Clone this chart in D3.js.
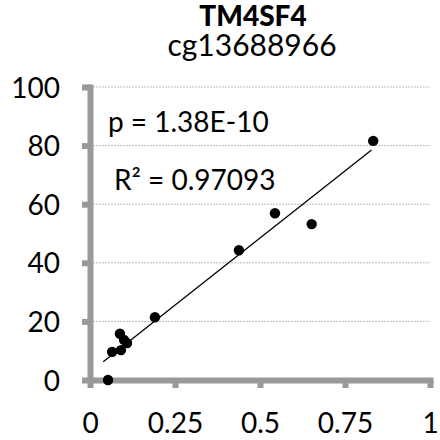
<!DOCTYPE html>
<html>
<head>
<meta charset="utf-8">
<script src="https://cdn.jsdelivr.net/npm/d3@7"></script>
<style>
  body { margin: 0; background: #fff; }
  text { font-family: Lato, "Open Sans", sans-serif; fill: #000; }
</style>
</head>
<body>
<div id="chart"></div>
<script>
const methylation = [0.053, 0.065, 0.088, 0.091, 0.100, 0.109, 0.191, 0.438, 0.544, 0.652, 0.833];
const expression = [0.0, 9.6, 15.8, 10.2, 13.7, 12.6, 21.4, 44.3, 56.9, 53.2, 81.6];
const trendX = [0.039, 0.828];
const trendSlope = 91.6;
const trendIntercept = 2.67;
const xTicks = [0, 0.25, 0.5, 0.75, 1];
const yTicks = [0, 20, 40, 60, 80, 100];
const titleLines = ["TM4SF4", "cg13688966"];
const notes = ["p = 1.38E-10", "R² = 0.97093"];

const width = 440, height = 440;
const margin = { top: 87, right: 10, bottom: 60, left: 90 };
const axisGrey = "#999999";

const svg = d3.select("#chart").append("svg")
  .attr("width", width)
  .attr("height", height);

const x = d3.scaleLinear().domain([0, 1]).range([margin.left, width - margin.right]);
const y = d3.scaleLinear().domain([0, 100]).range([height - margin.bottom, margin.top]);

// dotted gridlines
svg.append("g").selectAll("line")
  .data(yTicks.filter((d) => d > 0))
  .enter().append("line")
  .attr("x1", x(0) + 3)
  .attr("x2", x(1))
  .attr("y1", (d) => y(d))
  .attr("y2", (d) => y(d))
  .style("stroke", "#bdbdbd")
  .style("stroke-width", 1)
  .style("stroke-dasharray", "2,1");

// axes
const yAxis = svg.append("g")
  .attr("transform", `translate(${x(0)},0)`)
  .call(d3.axisLeft(y).tickValues(yTicks).tickSize(8).tickSizeOuter(0).tickPadding(22));

const xAxis = svg.append("g")
  .attr("transform", `translate(0,${y(0)})`)
  .call(d3.axisBottom(x).tickValues(xTicks).tickSize(8).tickSizeOuter(0)
    .tickFormat((d) => String(d)));

[yAxis, xAxis].forEach((a) => {
  a.select(".domain")
    .style("stroke", axisGrey)
    .style("stroke-width", 6)
    .style("stroke-linecap", "square");
  a.selectAll(".tick line")
    .style("stroke", axisGrey)
    .style("stroke-width", 6);
  a.selectAll(".tick text")
    .style("font-family", "Lato, 'Open Sans', sans-serif")
    .style("font-size", "28px")
    .style("fill", "#000");
});

yAxis.selectAll(".tick text").attr("dy", "0.36em");
xAxis.selectAll(".tick text").attr("y", 53).attr("dy", 0);

// trendline
svg.append("line")
  .attr("x1", x(trendX[0]))
  .attr("y1", y(trendSlope * trendX[0] + trendIntercept))
  .attr("x2", x(trendX[1]))
  .attr("y2", y(trendSlope * trendX[1] + trendIntercept))
  .style("stroke", "#000")
  .style("stroke-width", 1.3);

// points
svg.append("g").selectAll("circle")
  .data(methylation.map((m, i) => ({ m, e: expression[i] })))
  .enter().append("circle")
  .attr("cx", (d) => x(d.m))
  .attr("cy", (d) => y(d.e))
  .attr("r", 5.2)
  .style("fill", "#000");

// title
svg.append("text")
  .attr("x", 253)
  .attr("y", 26)
  .attr("text-anchor", "middle")
  .style("font-size", "28px")
  .style("font-weight", "900")
  .text(titleLines[0]);

svg.append("text")
  .attr("x", 252)
  .attr("y", 56)
  .attr("text-anchor", "middle")
  .style("font-size", "30px")
  .text(titleLines[1]);

// stats
svg.append("text")
  .attr("x", 108)
  .attr("y", 132)
  .style("font-size", "28px")
  .text(notes[0]);

svg.append("text")
  .attr("x", 114)
  .attr("y", 190)
  .style("font-size", "28px")
  .text(notes[1]);
</script>
</body>
</html>
